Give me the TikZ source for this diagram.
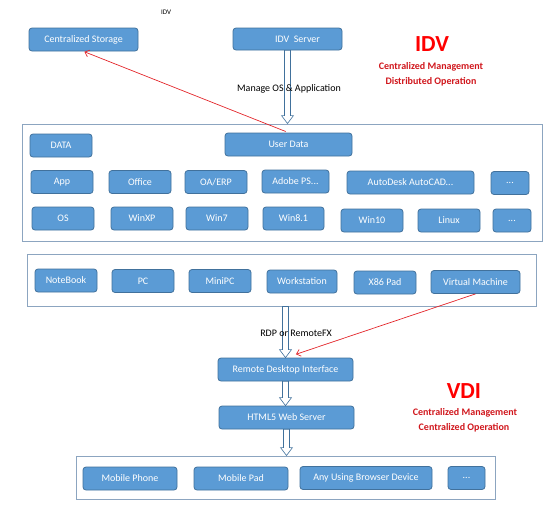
\documentclass[tikz,border=0pt]{standalone}
\usepackage{fontspec}
\setmainfont{Carlito}
\usepackage{xcolor}
\usepackage{tikz}
\usetikzlibrary{arrows.meta, calc}
\definecolor{vdiblue}{HTML}{5B9BD5}
\definecolor{vdiedge}{HTML}{41719C}
\definecolor{vdiframe}{HTML}{8CA5C0}
\definecolor{vdired}{HTML}{E3262B}
\definecolor{vdidark}{HTML}{D0161C}

\begin{document}
\begin{tikzpicture}[x=1pt, y=-1pt,
  box/.style={rectangle, rounded corners=3pt, draw=vdiedge, line width=0.8pt, fill=vdiblue,
    text=white, font=\fontsize{10}{12}\selectfont, minimum width=62pt, minimum height=23pt, inner sep=1pt},
  frame/.style={rectangle, draw=vdiframe, line width=0.9pt, fill=white, inner sep=0pt},
  blockarr/.style={draw=vdiedge, fill=white, line width=0.6pt,
    to path={let \p1=(\tikztostart), \p2=(\tikztotarget) in
      (\x1-3pt,\y1) -- (\x1+3pt,\y1) -- (\x1+3pt,\y2+8pt) -- (\x1+6pt,\y2+8pt) -- (\x1,\y2)
      -- (\x1-6pt,\y2+8pt) -- (\x1-3pt,\y2+8pt) -- cycle}},
  redarr/.style={draw=vdired, line width=0.7pt, -{Straight Barb[length=4pt, width=7pt]}},
  lbl/.style={font=\fontsize{10}{12}\selectfont},
  big/.style={text=red, font=\bfseries\fontsize{23}{26}\selectfont},
  sub/.style={text=vdidark, font=\bfseries\fontsize{10}{12}\selectfont}]
  \useasboundingbox (0,0) rectangle (560,512);

  \node[font=\fontsize{7}{8}\selectfont] (tag) at (166,12) {IDV};
  \node[box, minimum width=109pt] (cs) at (83.5,39.5) {Centralized Storage};
  \node[box, minimum width=109pt, minimum height=22pt] (idvs) at (287.5,39) {\hspace*{20pt}IDV\ \ Server};
  \node[big] (idvt) at (432,44) {IDV};
  \node[sub] (idvm) at (431,67) {Centralized Management};
  \node[sub] (idvo) at (431,82) {Distributed Operation};

  \node[frame, minimum width=520pt, minimum height=117pt] (f1) at (282,182.5) {};
  \node[box] (data) at (61,145.5) {DATA};
  \node[box, minimum width=127pt] (udata) at (288.5,144.5) {User Data};
  \node[box] (app) at (62,182) {App};
  \node[box] (office) at (140,182) {Office};
  \node[box] (oaerp) at (216,182) {OA/ERP};
  \node[box, minimum width=67pt] (adobe) at (295.5,181.5) {Adobe PS...};
  \node[box, minimum width=127pt] (acad) at (410.5,182.5) {AutoDesk AutoCAD...};
  \node[box, minimum width=38pt] (more1) at (510,183) {...};
  \node[box] (os) at (63,218.5) {OS};
  \node[box] (winxp) at (142,218.5) {WinXP};
  \node[box] (win7) at (217,218.5) {Win7};
  \node[box, minimum width=61pt] (win81) at (293.5,218.5) {Win8.1};
  \node[box] (win10) at (372,220.5) {Win10};
  \node[box] (linux) at (449,220.5) {Linux};
  \node[box, minimum width=38pt] (more2) at (512,220.5) {...};

  \node[frame, minimum width=509pt, minimum height=52pt] (f2) at (281.5,280) {};
  \node[box] (nbook) at (66,280.5) {NoteBook};
  \node[box] (pc) at (143,281) {PC};
  \node[box] (minipc) at (220,281) {MiniPC};
  \node[box, minimum width=70pt] (wstat) at (302,281.5) {Workstation};
  \node[box] (x86) at (385,282.5) {X86 Pad};
  \node[box, minimum width=89pt] (vm) at (475.5,282) {Virtual Machine};

  \node[box, minimum width=135pt] (rdi) at (285.5,369.5) {Remote Desktop Interface};
  \node[box, minimum width=135pt] (html) at (286.5,417.5) {HTML5 Web Server};
  \node[big] (vdit) at (464,391) {VDI};
  \node[sub] (vdim) at (465,413) {Centralized Management};
  \node[sub] (vdio) at (464,428) {Centralized Operation};

  \node[frame, minimum width=419pt, minimum height=43pt] (f3) at (285.5,477.5) {};
  \node[box, minimum width=94pt] (phone) at (130,478.5) {Mobile Phone};
  \node[box, minimum width=94pt] (pad) at (241,478.5) {Mobile Pad};
  \node[box, minimum width=132pt] (browser) at (366,478) {Any Using Browser Device};
  \node[box, minimum width=37pt] (more3) at (466.5,478) {...};

  \draw[blockarr] (idvs.south) to (f1.north);
  \draw[blockarr] (rdi.north |- f2.south) to (rdi.north);
  \draw[blockarr] (rdi.south) to (html.north);
  \draw[blockarr] (html.south) to (f3.north);
  \node[lbl] (mng) at (289,89) {Manage OS \& Application};
  \node[lbl] (rdp) at (296,333) {RDP or RemoteFX};

  \draw[redarr, shorten <=3pt, shorten >=1pt] (udata.north) -- (cs.south);
  \draw[redarr, shorten >=1pt] (vm.south) -- ([xshift=9.5pt, yshift=3pt]rdi.north);
\end{tikzpicture}
\end{document}
